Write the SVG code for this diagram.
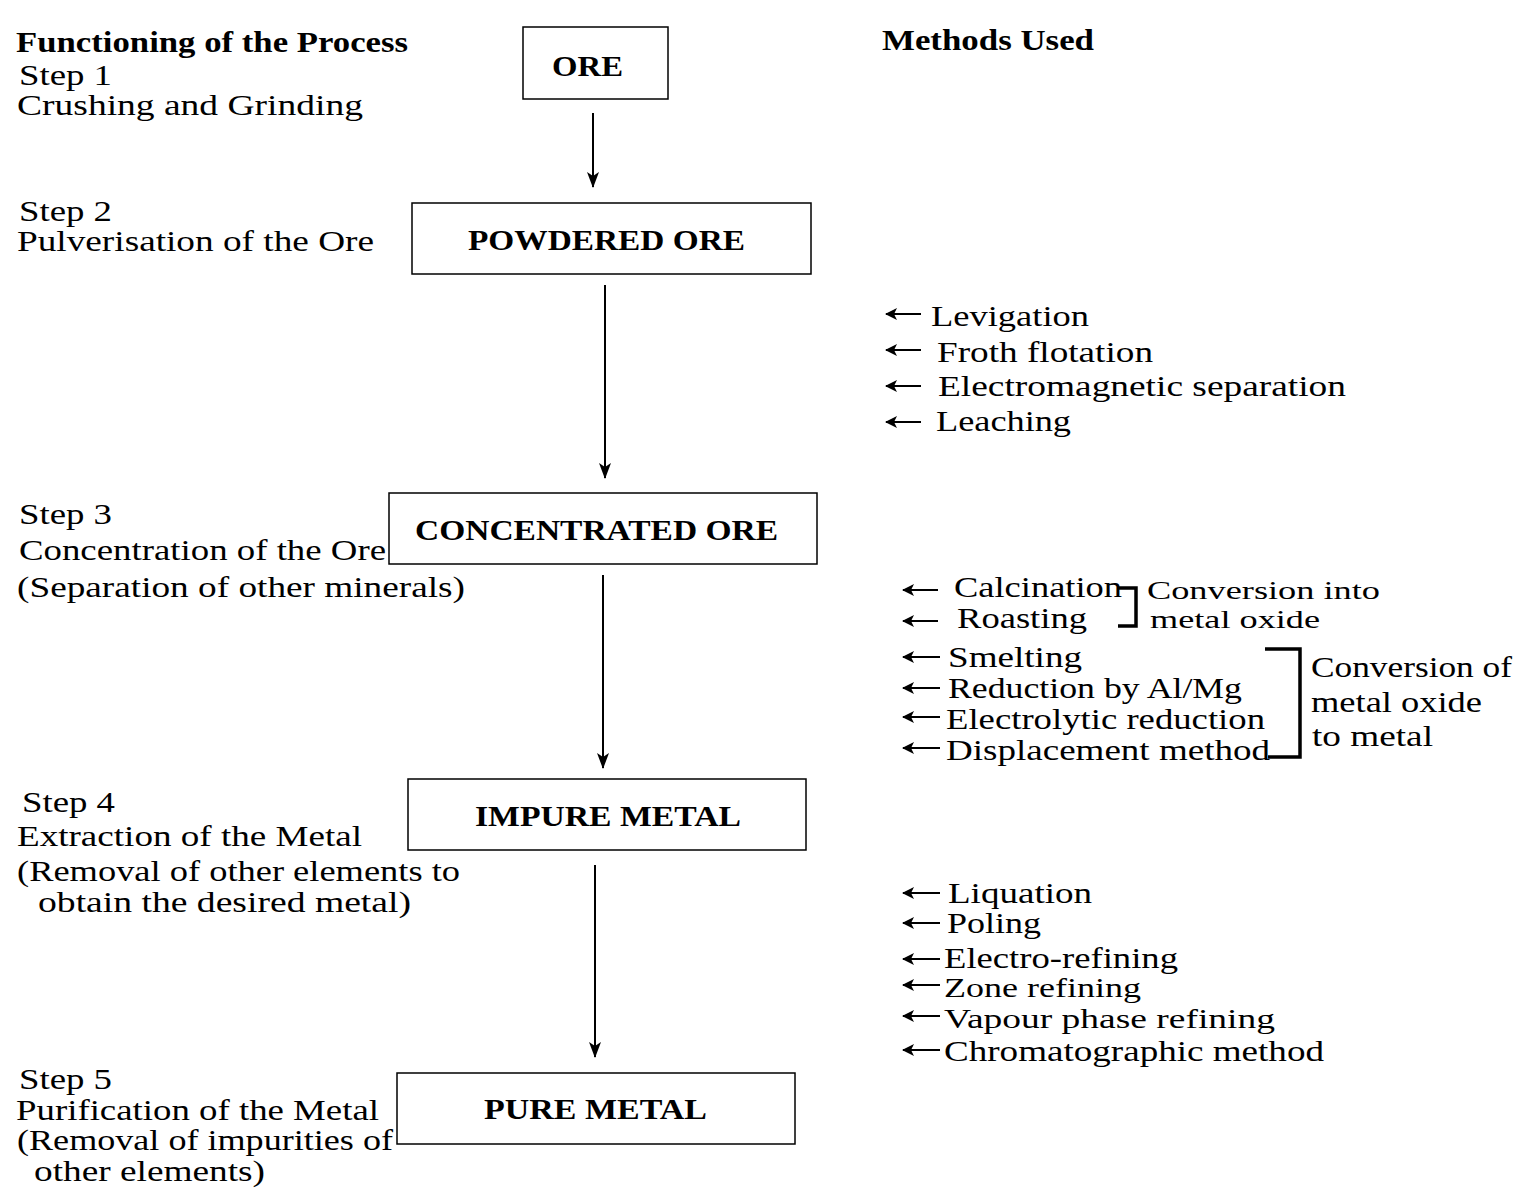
<svg xmlns="http://www.w3.org/2000/svg" width="1535" height="1200" viewBox="0 0 1535 1200">
<style>
.t{font-size:29px;}
.h{font-size:29px;font-weight:bold;}
.b{font-size:30px;font-weight:bold;}
.m{font-size:30px;}
.box{fill:#fff;stroke:#000;stroke-width:1.5;}
.conn{stroke:#000;stroke-width:2;fill:none;}
.sm{stroke:#000;stroke-width:2.2;fill:none;}
.br{stroke:#000;stroke-width:3.5;fill:none;}
</style>
<defs>
<marker id="ah" markerWidth="16" markerHeight="12" refX="15" refY="6" orient="auto" markerUnits="userSpaceOnUse" viewBox="0 0 16 12">
<path d="M0,0 L16,6 L0,12 L4,6 Z" fill="#000"/>
</marker>
<marker id="la" markerWidth="12" markerHeight="12" refX="1" refY="6" orient="0" markerUnits="userSpaceOnUse" viewBox="0 0 12 12">
<path d="M0,6 L12,0 L9,6 L12,12 Z" fill="#000"/>
</marker>
</defs>
<rect width="1535" height="1200" fill="#fff"/>

<g font-family="Liberation Serif, Times New Roman, Tinos, DejaVu Serif, Noto Serif, serif" fill="#000">
<g id="left-labels">
<text class="h" x="16" y="52" textLength="392" lengthAdjust="spacingAndGlyphs">Functioning of the Process</text>
<text class="t" x="19" y="85" textLength="93" lengthAdjust="spacingAndGlyphs">Step 1</text>
<text class="t" x="17" y="115" textLength="346" lengthAdjust="spacingAndGlyphs">Crushing and Grinding</text>
<text class="t" x="19" y="221" textLength="93" lengthAdjust="spacingAndGlyphs">Step 2</text>
<text class="t" x="17" y="251" textLength="357" lengthAdjust="spacingAndGlyphs">Pulverisation of the Ore</text>
<text class="t" x="19" y="524" textLength="93" lengthAdjust="spacingAndGlyphs">Step 3</text>
<text class="t" x="19" y="560" textLength="367" lengthAdjust="spacingAndGlyphs">Concentration of the Ore</text>
<text class="t" x="17" y="597" textLength="448" lengthAdjust="spacingAndGlyphs">(Separation of other minerals)</text>
<text class="t" x="22" y="812" textLength="93" lengthAdjust="spacingAndGlyphs">Step 4</text>
<text class="t" x="17" y="846" textLength="345" lengthAdjust="spacingAndGlyphs">Extraction of the Metal</text>
<text class="t" x="17" y="881" textLength="443" lengthAdjust="spacingAndGlyphs">(Removal of other elements to</text>
<text class="t" x="38" y="912" textLength="373" lengthAdjust="spacingAndGlyphs">obtain the desired metal)</text>
<text class="t" x="19" y="1089" textLength="93" lengthAdjust="spacingAndGlyphs">Step 5</text>
<text class="t" x="16" y="1120" textLength="363" lengthAdjust="spacingAndGlyphs">Purification of the Metal</text>
<text class="t" x="17" y="1150" textLength="376" lengthAdjust="spacingAndGlyphs">(Removal of impurities of</text>
<text class="t" x="34" y="1181" textLength="231" lengthAdjust="spacingAndGlyphs">other elements)</text>
</g>

<g id="node-ore">
<rect class="box" x="523" y="27" width="145" height="72"/>
<text class="b" x="552" y="76" textLength="71" lengthAdjust="spacingAndGlyphs">ORE</text>
</g>
<g id="node-powdered">
<rect class="box" x="412" y="203" width="399" height="71"/>
<text class="b" x="468" y="250" textLength="277" lengthAdjust="spacingAndGlyphs">POWDERED ORE</text>
</g>
<g id="node-concentrated">
<rect class="box" x="389" y="493" width="428" height="71"/>
<text class="b" x="415" y="540" textLength="363" lengthAdjust="spacingAndGlyphs">CONCENTRATED ORE</text>
</g>
<g id="node-impure">
<rect class="box" x="408" y="779" width="398" height="71"/>
<text class="b" x="475" y="826" textLength="266" lengthAdjust="spacingAndGlyphs">IMPURE METAL</text>
</g>
<g id="node-pure">
<rect class="box" x="397" y="1073" width="398" height="71"/>
<text class="b" x="484" y="1119" textLength="223" lengthAdjust="spacingAndGlyphs">PURE METAL</text>
</g>

<g id="connectors">
<line class="conn" x1="593" y1="113" x2="593" y2="187" marker-end="url(#ah)"/>
<line class="conn" x1="605" y1="285" x2="605" y2="478" marker-end="url(#ah)"/>
<line class="conn" x1="603" y1="575" x2="603" y2="768" marker-end="url(#ah)"/>
<line class="conn" x1="595" y1="865" x2="595" y2="1057" marker-end="url(#ah)"/>
</g>

<g id="methods">
<text class="h" x="882" y="50" textLength="212" lengthAdjust="spacingAndGlyphs">Methods Used</text>

<g id="method-arrows">
<line class="sm" x1="921" y1="314" x2="886" y2="314" marker-end="url(#la)"/>
<line class="sm" x1="921" y1="350" x2="886" y2="350" marker-end="url(#la)"/>
<line class="sm" x1="921" y1="386" x2="886" y2="386" marker-end="url(#la)"/>
<line class="sm" x1="921" y1="422" x2="886" y2="422" marker-end="url(#la)"/>
<line class="sm" x1="938" y1="590" x2="903" y2="590" marker-end="url(#la)"/>
<line class="sm" x1="938" y1="621" x2="903" y2="621" marker-end="url(#la)"/>
<line class="sm" x1="940" y1="657" x2="903" y2="657" marker-end="url(#la)"/>
<line class="sm" x1="940" y1="688" x2="903" y2="688" marker-end="url(#la)"/>
<line class="sm" x1="940" y1="717" x2="903" y2="717" marker-end="url(#la)"/>
<line class="sm" x1="940" y1="748" x2="903" y2="748" marker-end="url(#la)"/>
<line class="sm" x1="940" y1="893" x2="903" y2="893" marker-end="url(#la)"/>
<line class="sm" x1="940" y1="923" x2="903" y2="923" marker-end="url(#la)"/>
<line class="sm" x1="940" y1="959" x2="903" y2="959" marker-end="url(#la)"/>
<line class="sm" x1="940" y1="985" x2="903" y2="985" marker-end="url(#la)"/>
<line class="sm" x1="940" y1="1016" x2="903" y2="1016" marker-end="url(#la)"/>
<line class="sm" x1="940" y1="1050" x2="903" y2="1050" marker-end="url(#la)"/>
</g>

<text class="m" x="931" y="326" textLength="158" lengthAdjust="spacingAndGlyphs">Levigation</text>
<text class="m" x="937" y="362" textLength="216" lengthAdjust="spacingAndGlyphs">Froth flotation</text>
<text class="m" x="938" y="396" textLength="408" lengthAdjust="spacingAndGlyphs">Electromagnetic separation</text>
<text class="m" x="936" y="431" textLength="135" lengthAdjust="spacingAndGlyphs">Leaching</text>

<text class="m" x="954" y="597" textLength="168" lengthAdjust="spacingAndGlyphs">Calcination</text>
<text class="m" x="957" y="628" textLength="130" lengthAdjust="spacingAndGlyphs">Roasting</text>
<path class="br" d="M1118,588 H1136 V626 H1118"/>
<text x="1147" y="599" font-size="26" textLength="233" lengthAdjust="spacingAndGlyphs">Conversion into</text>
<text x="1150" y="628" font-size="26" textLength="170" lengthAdjust="spacingAndGlyphs">metal oxide</text>

<text class="m" x="948" y="667" textLength="134" lengthAdjust="spacingAndGlyphs">Smelting</text>
<text class="m" x="948" y="698" textLength="294" lengthAdjust="spacingAndGlyphs">Reduction by Al/Mg</text>
<text class="m" x="946" y="729" textLength="319" lengthAdjust="spacingAndGlyphs">Electrolytic reduction</text>
<text class="m" x="946" y="760" textLength="324" lengthAdjust="spacingAndGlyphs">Displacement method</text>
<path class="br" d="M1265,649 H1300 V757 H1268"/>
<text class="m" x="1311" y="677" textLength="201" lengthAdjust="spacingAndGlyphs">Conversion of</text>
<text class="m" x="1311" y="712" textLength="171" lengthAdjust="spacingAndGlyphs">metal oxide</text>
<text class="m" x="1312" y="746" textLength="121" lengthAdjust="spacingAndGlyphs">to metal</text>

<text class="m" x="948" y="903" textLength="144" lengthAdjust="spacingAndGlyphs">Liquation</text>
<text class="m" x="947" y="933" textLength="94" lengthAdjust="spacingAndGlyphs">Poling</text>
<text class="m" x="944" y="968" textLength="234" lengthAdjust="spacingAndGlyphs">Electro-refining</text>
<text x="944" y="997" font-size="27" textLength="197" lengthAdjust="spacingAndGlyphs">Zone refining</text>
<text x="944" y="1028" font-size="27" textLength="331" lengthAdjust="spacingAndGlyphs">Vapour phase refining</text>
<text class="m" x="944" y="1061" textLength="380" lengthAdjust="spacingAndGlyphs">Chromatographic method</text>
</g>
</g>
</svg>
